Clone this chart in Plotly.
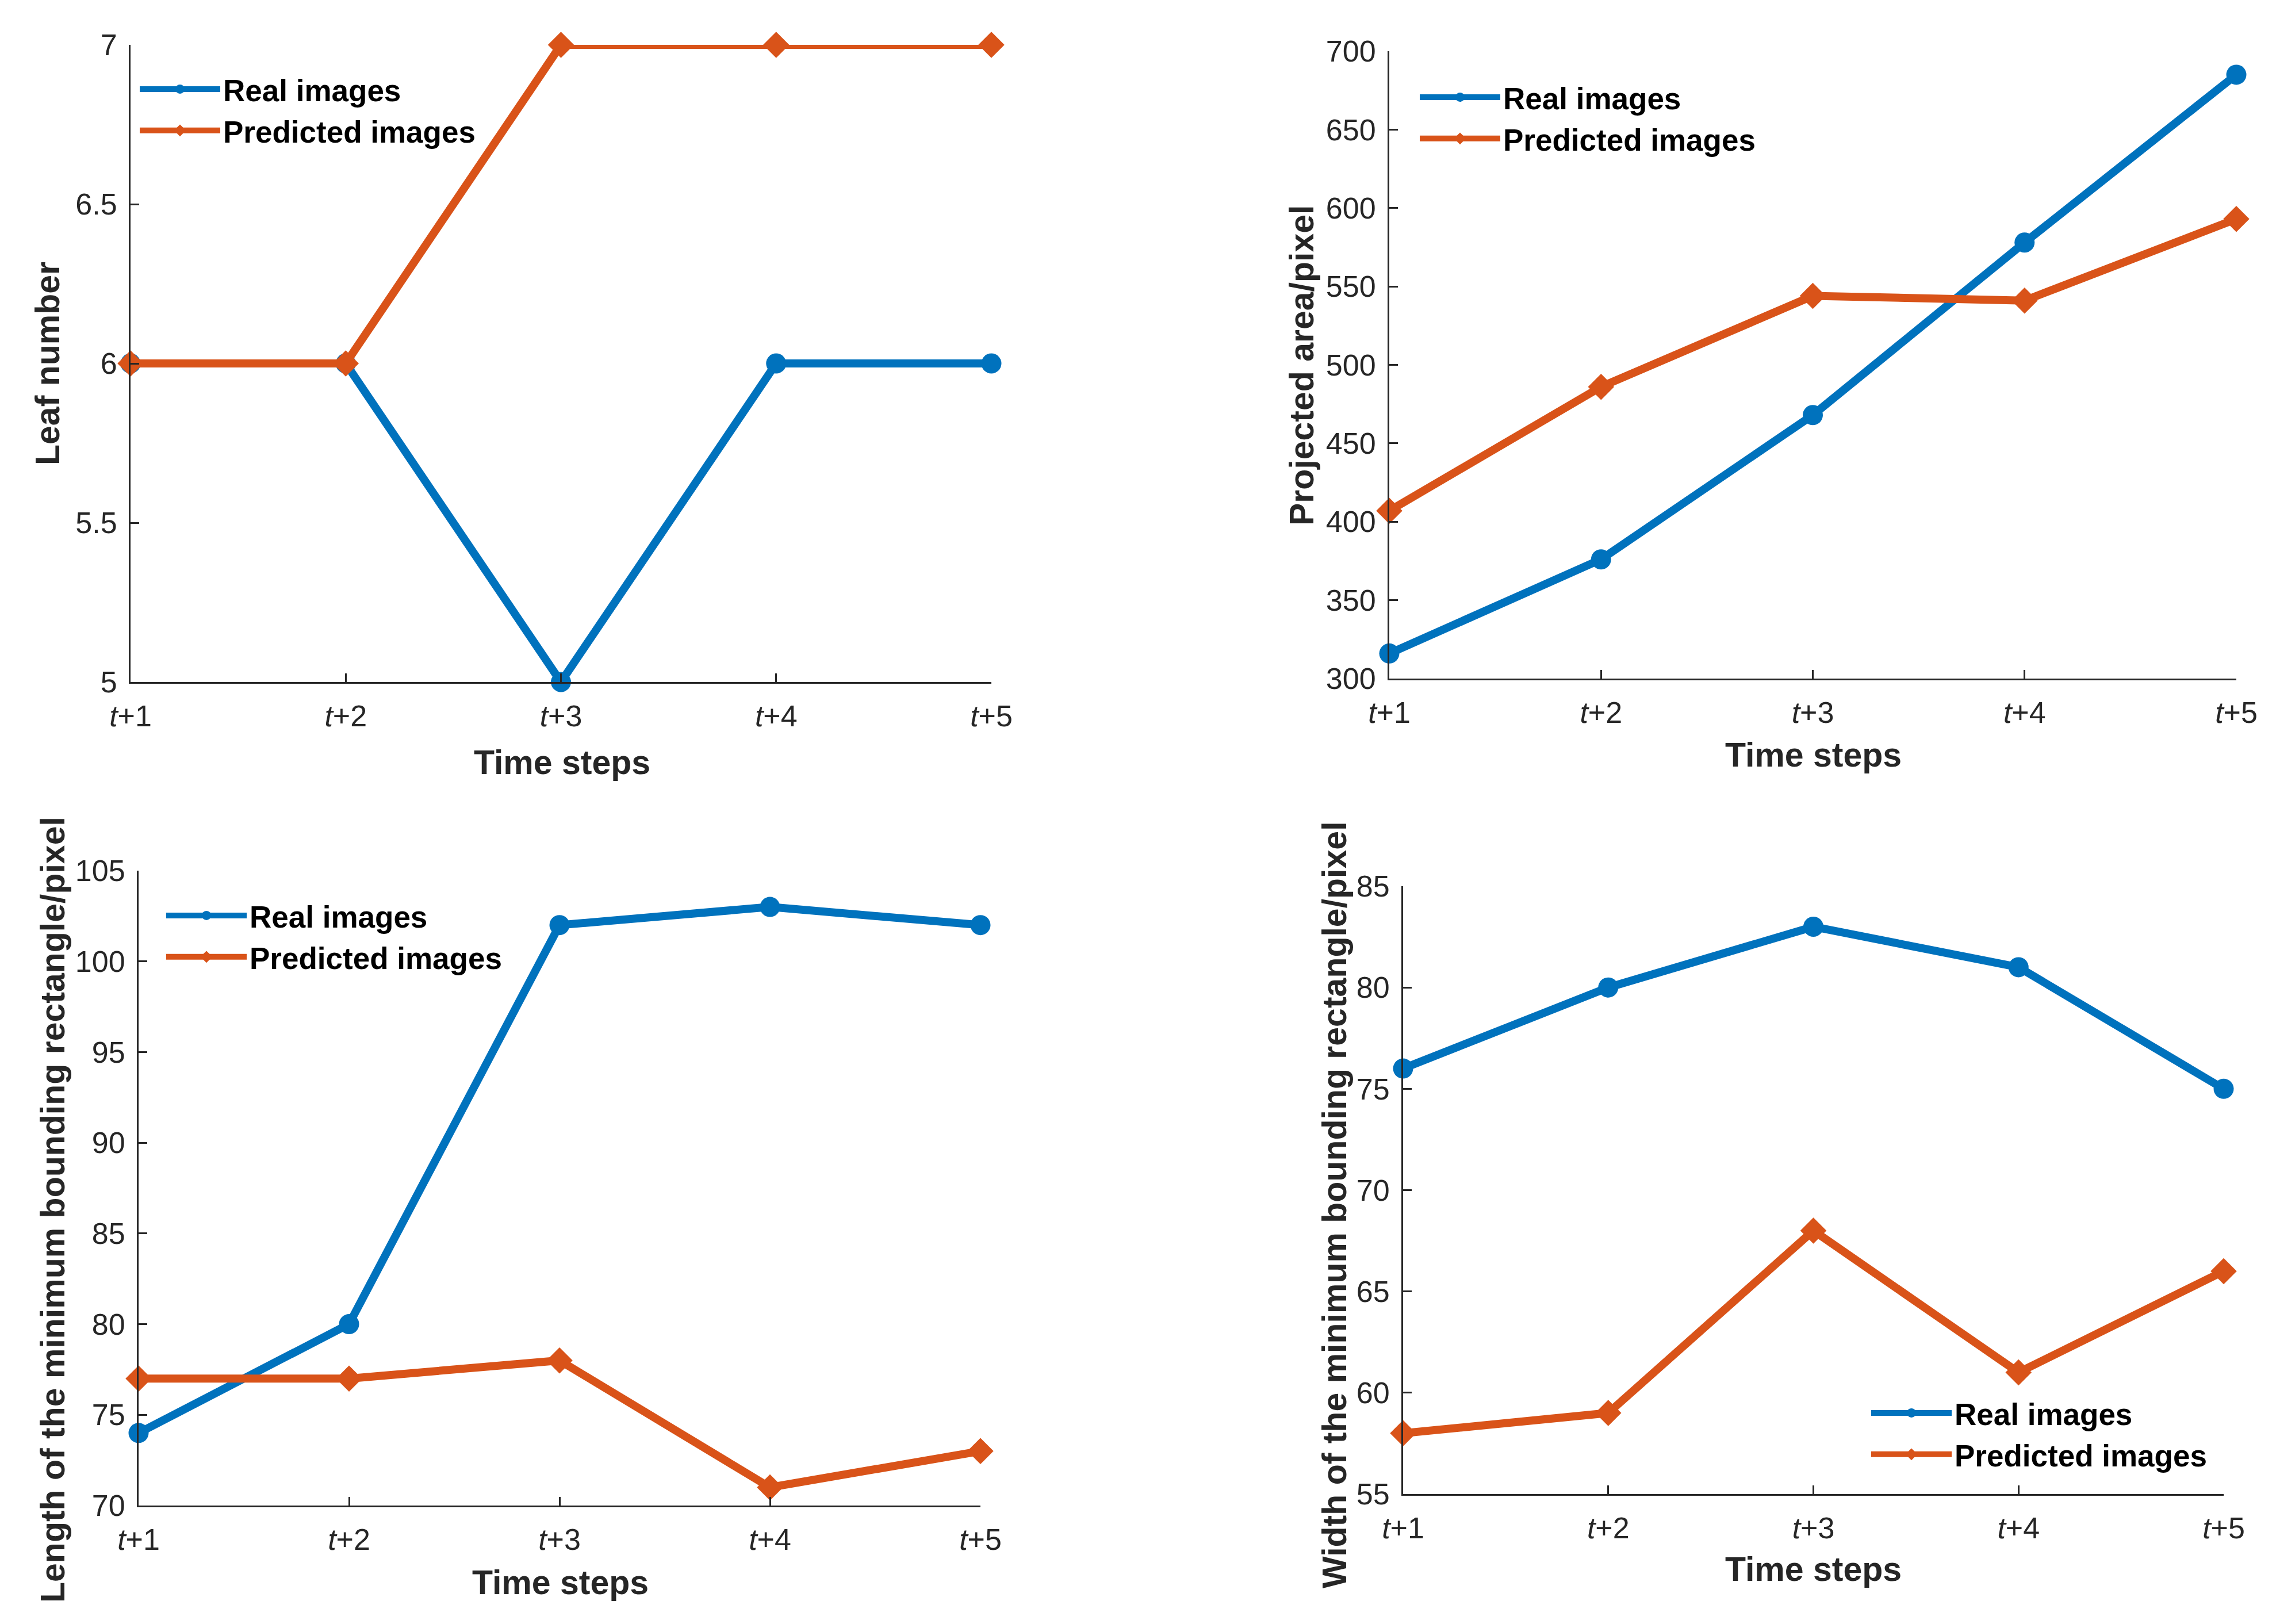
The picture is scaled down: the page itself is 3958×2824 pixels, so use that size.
import plotly.graph_objects as go

W, H = 3958, 2824
OFF = 8  # page body margin

time_labels = ["t+1", "t+2", "t+3", "t+4", "t+5"]

leaf_real = [6, 6, 5, 6, 6]
leaf_pred = [6, 6, 7, 7, 7]

area_real = [316, 376, 468, 578, 685]
area_pred = [407, 486, 544, 541, 593]

length_real = [74, 80, 102, 103, 102]
length_pred = [77, 77, 78, 71, 73]

width_real = [76, 80, 83, 81, 75]
width_pred = [58, 59, 68, 61, 66]

y_titles = [
    "Leaf number",
    "Projected area/pixel",
    "Length of the minimum bounding rectangle/pixel",
    "Width of the minimum bounding rectangle/pixel",
]
x_title = "Time steps"
series_names = ["Real images", "Predicted images"]

BLUE = "#0072BD"
ORANGE = "#D95319"
AX = "#262626"
FONT = "Liberation Sans, Arial, sans-serif"

x_idx = list(range(1, len(time_labels) + 1))
tick_text = ["<i>t</i>" + lab[1:] for lab in time_labels]


def px_x(v):
    return (v - OFF) / W


def px_y(v):
    return 1 - (v - OFF) / H


# panel boxes in pixels: (left, right, top, bottom)
boxes = [
    (227, 1724, 78, 1186),
    (2416, 3889, 89, 1180),
    (241, 1705, 1514, 2618),
    (2440, 3867, 1541, 2598),
]
yranges = [(5, 7, 0.5), (300, 700, 50), (70, 105, 5), (55, 85, 5)]
data = [
    (leaf_real, leaf_pred),
    (area_real, area_pred),
    (length_real, length_pred),
    (width_real, width_pred),
]
# legend anchor (line start x, first row center y)
legend_pos = [(244, 152), (2470, 166), (290, 1589), (3255, 2454)]
# axis title positions
xt_pos = [(977, 1326), (3153, 1313), (974, 2752), (3153, 2729)]
yt_pos = [(83, 632), (2264, 635), (92, 2104), (2321, 2095)]

fig = go.Figure()
layout = dict(
    width=W,
    height=H,
    margin=dict(l=0, r=0, t=0, b=0, autoexpand=False),
    paper_bgcolor="white",
    plot_bgcolor="white",
    font=dict(family=FONT, size=52, color=AX),
    showlegend=True,
)
annotations = []

for i in range(4):
    n = "" if i == 0 else str(i + 1)
    xa, ya = "x" + n, "y" + n
    leg = "legend" + n
    real, pred = data[i]
    fig.add_trace(go.Scatter(
        x=x_idx, y=real, name=series_names[0], xaxis=xa, yaxis=ya,
        mode="lines+markers", line=dict(color=BLUE, width=14),
        marker=dict(symbol="circle", size=35, color=BLUE),
        cliponaxis=False, legend=leg,
    ))
    fig.add_trace(go.Scatter(
        x=x_idx, y=pred, name=series_names[1], xaxis=xa, yaxis=ya,
        mode="lines+markers", line=dict(color=ORANGE, width=14),
        marker=dict(symbol="diamond", size=35, color=ORANGE),
        cliponaxis=False, legend=leg,
    ))
    l, r, t, b = boxes[i]
    y0, y1, dt = yranges[i]
    common = dict(
        showline=True, linecolor=AX, linewidth=3, mirror=False,
        ticks="inside", ticklen=15, tickwidth=3, tickcolor=AX,
        showgrid=False, zeroline=False, automargin=False,
        tickfont=dict(family=FONT, size=52, color=AX),
    )
    layout["xaxis" + n] = dict(
        domain=[px_x(l), px_x(r)], anchor=ya, range=[1, 5],
        tickmode="array", tickvals=x_idx, ticktext=tick_text,
        ticklabelstandoff=12, **common,
    )
    layout["yaxis" + n] = dict(
        domain=[px_y(b), px_y(t)], anchor=xa, range=[y0, y1],
        dtick=dt, tick0=y0, ticklabelstandoff=10, **common,
    )
    lx, ly = legend_pos[i]
    layout[leg] = dict(
        x=px_x(lx - 6), y=px_y(ly - 38), xanchor="left", yanchor="top",
        bgcolor="rgba(0,0,0,0)", borderwidth=0,
        font=dict(family=FONT, size=53, color="black", weight="bold"),
        itemwidth=140, tracegroupgap=0,
    )
    xx, xy = xt_pos[i]
    annotations.append(dict(
        text="<b>" + x_title + "</b>", x=px_x(xx), y=px_y(xy), xref="paper", yref="paper",
        showarrow=False, xanchor="center", yanchor="middle",
        font=dict(family=FONT, size=59, color=AX),
    ))
    yx, yy = yt_pos[i]
    annotations.append(dict(
        text="<b>" + y_titles[i] + "</b>", x=px_x(yx), y=px_y(yy), xref="paper", yref="paper",
        showarrow=False, xanchor="center", yanchor="middle", textangle=-90,
        font=dict(family=FONT, size=59, color=AX),
    ))

layout["annotations"] = annotations
fig.update_layout(**layout)
fig.write_html("out.html")
